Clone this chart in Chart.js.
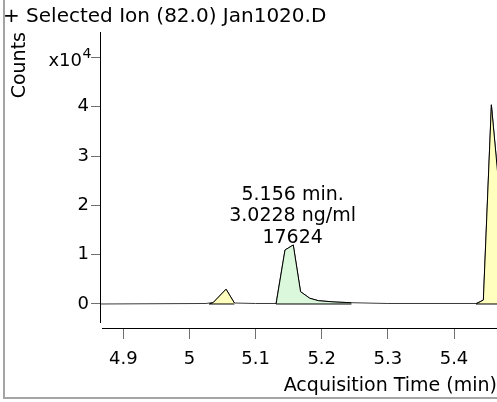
<!DOCTYPE html>
<html>
<head>
<meta charset="utf-8">
<script src="https://cdn.jsdelivr.net/npm/chart.js@4.4.1/dist/chart.umd.min.js"></script>
<style>
  html, body { margin: 0; padding: 0; background: #fff; overflow: hidden; }
  #wrap { position: relative; width: 497px; height: 402px; }
  #frame { position: absolute; left: 3px; top: 0; width: 540px; height: 397px;
           border-left: 2px solid #a4a4a4; border-bottom: 2px solid #a4a4a4; }
  #chart { position: absolute; left: 0; top: 0; }
</style>
</head>
<body>
<div id="wrap">
  <div id="frame"></div>
  <canvas id="chart" width="497" height="402"></canvas>
</div>
<script>
// Chromatogram data, counts in units of 10^4
const titleText = '+ Selected Ion (82.0) Jan1020.D';
const xTitle = 'Acquisition Time (min)';
const yTitle = 'Counts';

const traceTime   = [4.8648, 5.025, 5.030, 5.036, 5.0554, 5.068, 5.100, 5.131, 5.1445, 5.157, 5.168, 5.182, 5.195, 5.220, 5.245, 5.300, 5.4333, 5.4444, 5.4565, 5.4685, 5.480, 5.490];
const traceCounts = [0.00,   0.01,  0.02,  0.03,  0.30,   0.02,  0.01,  0.01,  1.095,  1.197, 0.25,  0.116, 0.067, 0.040, 0.026, 0.01,  0.01,   0.08,   4.04,   2.29,   0.40,  0.03];

// integrated peaks (filled)
const peak1Time   = [5.030, 5.036, 5.0554, 5.068];
const peak1Counts = [0.00,  0.03,  0.30,   0.02];
const peak2Time   = [5.131, 5.1445, 5.157, 5.168, 5.182, 5.195, 5.220, 5.245];
const peak2Counts = [0.00,  1.095,  1.197, 0.25,  0.116, 0.067, 0.040, 0.026];
const peak3Time   = [5.4333, 5.4444, 5.4565, 5.4685, 5.480, 5.490];
const peak3Counts = [0.00,   0.08,   4.04,   2.29,   0.40,  0.03];

const xTicks = [4.9, 5.0, 5.1, 5.2, 5.3, 5.4];
const yTicks = [0, 1, 2, 3, 4, 5];
const yExpTick = 5;   // this tick carries the x10^4 multiplier instead of a number

const labelTime = 5.156;
const labelApex = 1.197;
const labelLines = ['5.156 min.', '3.0228 ng/ml', '17624'];

const FONT = '"DejaVu Sans", Verdana, sans-serif';

function pts(t, c) { return t.map((v, i) => ({ x: v, y: c[i] })); }
function baseline(t) { return [{ x: t[0], y: 0 }, { x: t[t.length - 1], y: 0 }]; }

const lineBase = { pointRadius: 0, tension: 0, borderWidth: 1 };

// axis lines drawn separately so they leave the small corner gap
const axisLines = {
  id: 'axisLines',
  afterDraw(chart) {
    const { ctx, chartArea: a } = chart;
    ctx.save();
    ctx.strokeStyle = '#000';
    ctx.lineWidth = 1;
    ctx.beginPath();
    ctx.moveTo(a.left + 0.5, a.top);
    ctx.lineTo(a.left + 0.5, a.bottom - 5);
    ctx.moveTo(a.left + 2, a.bottom + 0.5);
    ctx.lineTo(a.right, a.bottom + 0.5);
    ctx.stroke();
    ctx.restore();
  }
};

// "x10" with a raised 4 at the top tick
const expLabel = {
  id: 'expLabel',
  afterDraw(chart) {
    const { ctx, scales: { y } } = chart;
    const ty = y.getPixelForValue(yExpTick);
    const xr = chart.chartArea.left - 18;
    ctx.save();
    ctx.fillStyle = '#000';
    ctx.textBaseline = 'alphabetic';
    ctx.font = '18px ' + FONT;
    ctx.textAlign = 'right';
    ctx.fillText('x10', xr, ty + 8.5);
    ctx.font = '14px ' + FONT;
    ctx.textAlign = 'left';
    ctx.fillText('4', xr + 0.5, ty + 0.5);
    ctx.restore();
  }
};

const peakLabel = {
  id: 'peakLabel',
  afterDatasetsDraw(chart) {
    const { ctx, scales: { x, y } } = chart;
    const px = x.getPixelForValue(labelTime);
    const py = y.getPixelForValue(labelApex);
    ctx.save();
    ctx.font = '19px ' + FONT;
    ctx.fillStyle = '#000';
    ctx.textAlign = 'center';
    ctx.textBaseline = 'alphabetic';
    const n = labelLines.length;
    labelLines.forEach((t, i) => ctx.fillText(t, px, py - 2 - (n - 1 - i) * 21.5));
    ctx.restore();
  }
};

new Chart(document.getElementById('chart'), {
  type: 'line',
  data: {
    datasets: [
      { ...lineBase, data: baseline(peak1Time), borderColor: '#000' },
      { ...lineBase, data: baseline(peak2Time), borderColor: '#000' },
      { ...lineBase, data: baseline(peak3Time), borderColor: '#000' },
      { ...lineBase, data: pts(peak3Time, peak3Counts), borderColor: '#000', backgroundColor: '#ffffbe', fill: 'origin' },
      { ...lineBase, data: pts(peak2Time, peak2Counts), borderColor: '#000', backgroundColor: '#dcf8dc', fill: 'origin' },
      { ...lineBase, data: pts(peak1Time, peak1Counts), borderColor: '#000', backgroundColor: '#ffffbe', fill: 'origin' },
      { ...lineBase, data: pts(traceTime, traceCounts), borderColor: '#3a3a3a', fill: false }
    ]
  },
  options: {
    responsive: false,
    animation: false,
    events: [],
    layout: { padding: { left: 3, right: 0, top: 0, bottom: 0 } },
    plugins: {
      legend: { display: false },
      tooltip: { enabled: false },
      title: {
        display: true, text: titleText, align: 'start', color: '#000',
        font: { family: FONT, size: 20, weight: 'normal' },
        padding: { top: 5, bottom: 3 }
      }
    },
    scales: {
      x: {
        type: 'linear', min: 4.8648, max: 5.465,
        afterBuildTicks: s => { s.ticks = xTicks.map(v => ({ value: v })); },
        afterFit: s => { s.height = 74; },
        border: { display: false },
        grid: { drawOnChartArea: false, drawTicks: true, tickLength: 11, tickColor: '#707070' },
        ticks: {
          color: '#000', font: { family: FONT, size: 18 }, padding: 10, maxRotation: 0,
          callback: v => String(Number(v.toFixed(1)))
        },
        title: {
          display: true, text: xTitle, align: 'end', color: '#000',
          font: { family: FONT, size: 19 }, padding: { top: 0, bottom: 5 }
        }
      },
      y: {
        type: 'linear', min: -0.487, max: 5.517,
        afterBuildTicks: s => { s.ticks = yTicks.map(v => ({ value: v })); },
        afterFit: s => { s.width = 97; },
        border: { display: false },
        grid: { drawOnChartArea: false, drawTicks: true, tickLength: 9, tickColor: '#707070' },
        ticks: {
          color: '#000', font: { family: FONT, size: 18 }, padding: 2,
          callback: v => (v === yExpTick ? '' : String(v))
        },
        title: {
          display: true, text: yTitle, align: 'end', color: '#000',
          font: { family: FONT, size: 19 }, padding: { top: 6, bottom: 0 }
        }
      }
    }
  },
  plugins: [axisLines, expLabel, peakLabel]
});
</script>
</body>
</html>
